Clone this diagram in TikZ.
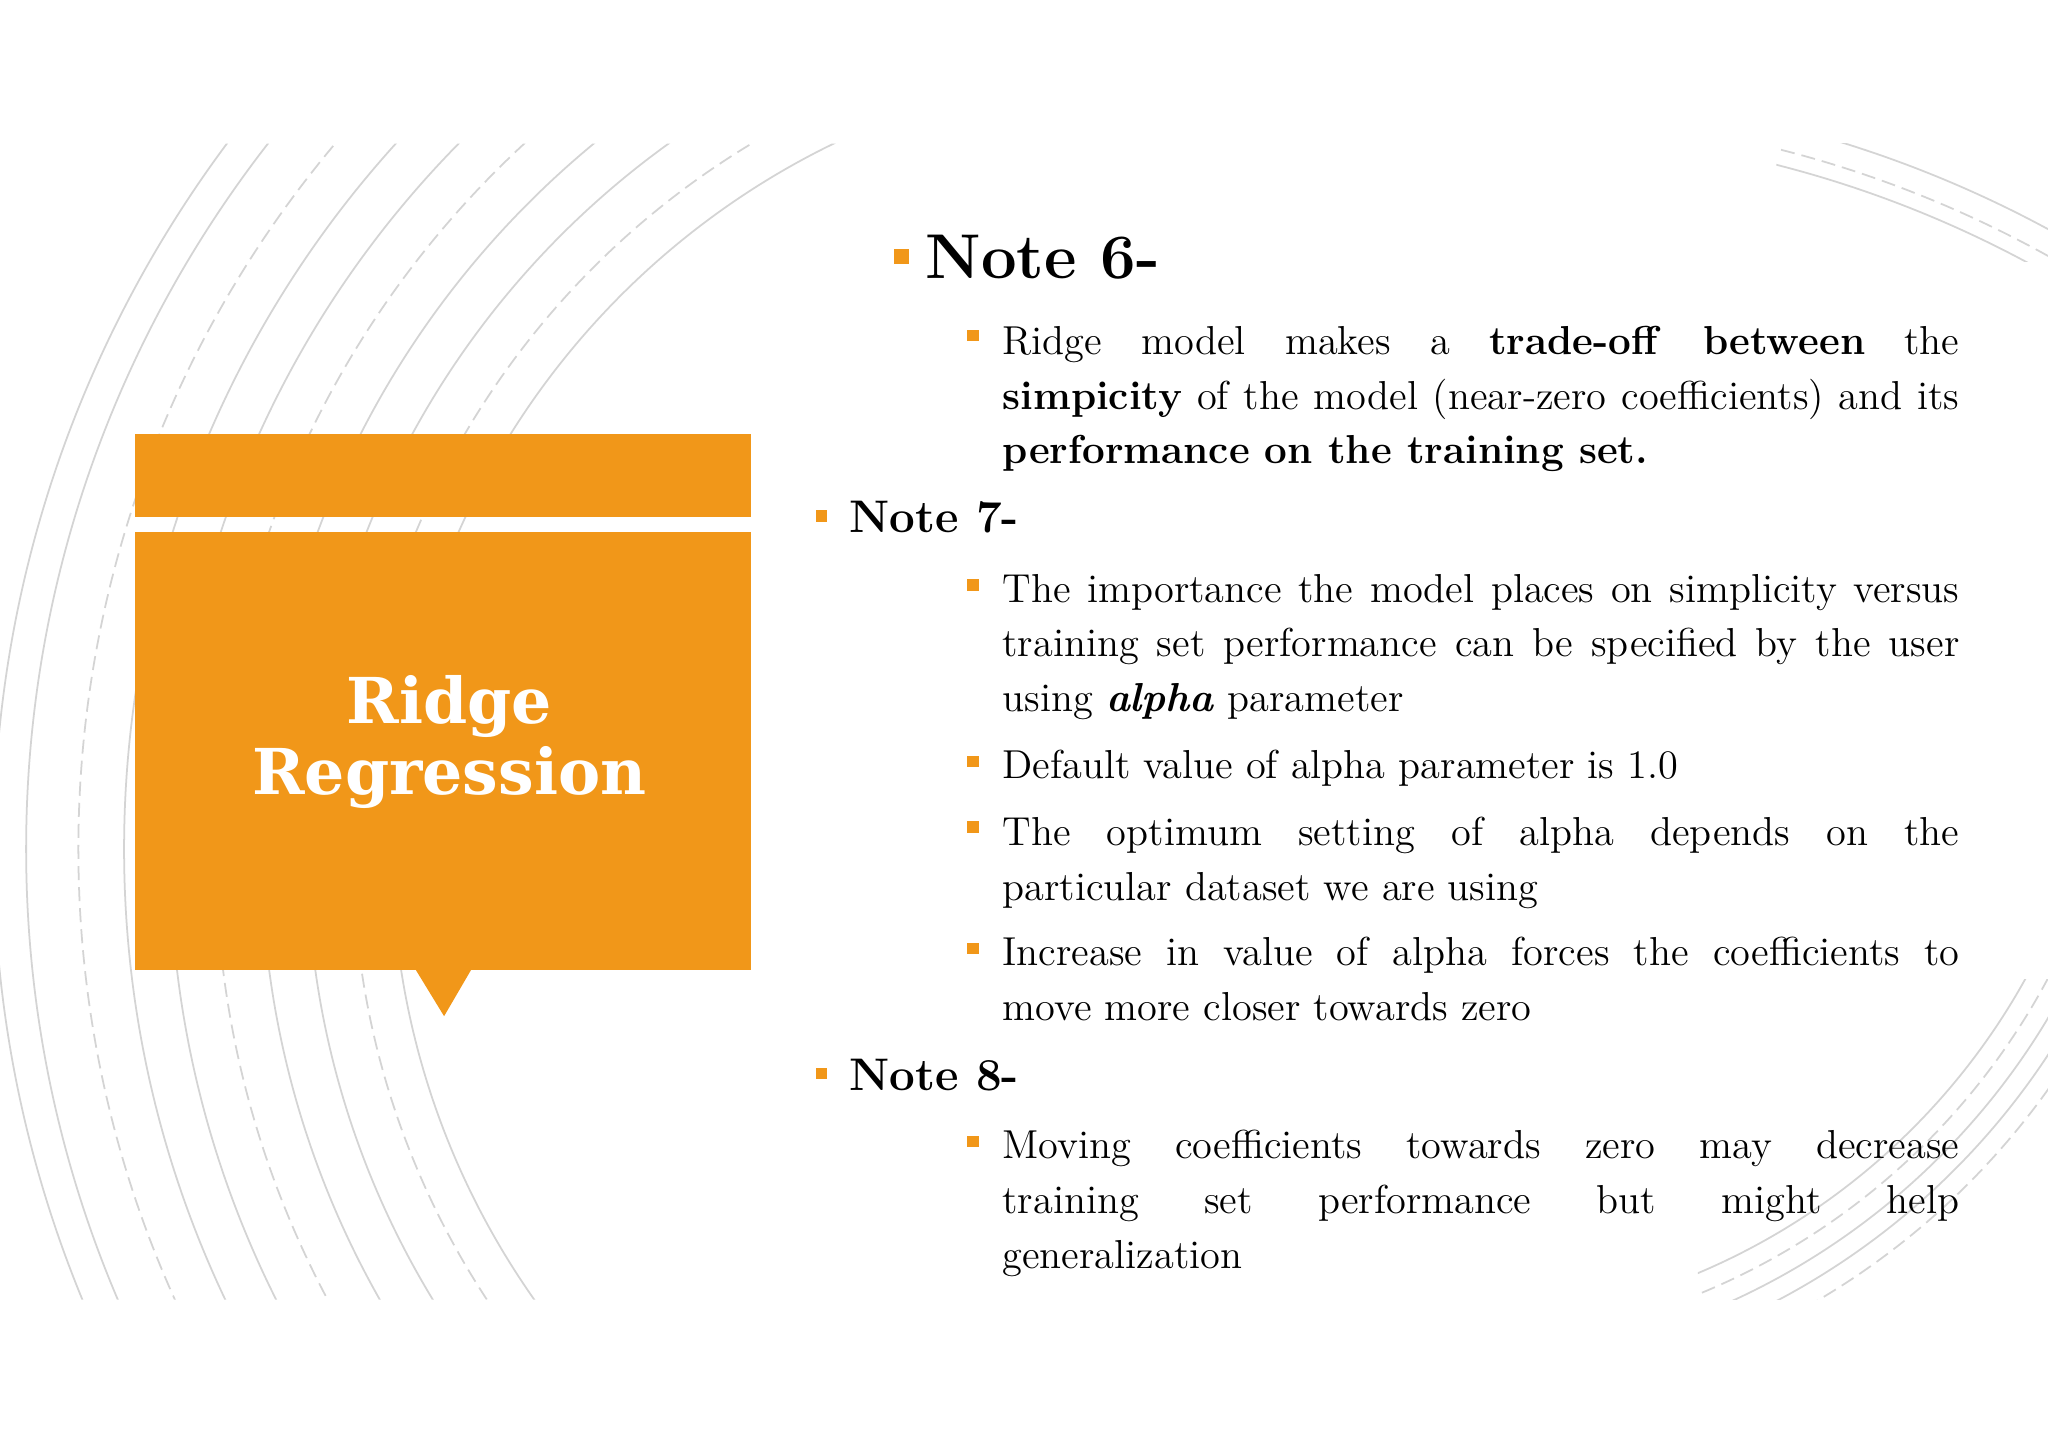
\documentclass[tikz,border=0pt]{standalone}
\usepackage{tikz}
\usetikzlibrary{positioning}
\usepackage{fontspec}
\newfontfamily\slabfont{DejaVu Serif}
\definecolor{slideorange}{HTML}{F19719}
\definecolor{arcgrey}{HTML}{D4D4D4}

\begin{document}
\begin{tikzpicture}[x=0.013061cm, y=-0.013061cm,
  arcline/.style = {draw=arcgrey, line width=0.5pt},
  arcdash/.style = {draw=arcgrey, line width=0.5pt, dash pattern=on 4pt off 2pt},
  subbullet/.style = {fill=slideorange, inner sep=0pt, minimum size=1.15mm},
  notebullet/.style = {fill=slideorange, inner sep=0pt, minimum size=1.5mm},
  bodytext/.style = {anchor=north west, inner sep=0pt, text width=9.57cm, align=justify,
    font=\fontsize{11.5}{15.6}\selectfont},
  notehead/.style = {anchor=base west, inner sep=0pt, font=\fontsize{13}{15}\selectfont\bfseries}]
\useasboundingbox (0,0) rectangle (1568,1109);
\fill[white] (0,0) rectangle (1568,1109);

% background arcs
\begin{scope}
\clip (0,110) -- (668,110) -- (440,995) -- (0,995) -- cycle;
\foreach \r/\s in {600/arcline, 630/arcdash, 665/arcline, 700/arcline, 735/arcdash, 770/arcline, 805/arcline, 840/arcdash, 880/arcline, 905/arcline}
  \draw[\s] (900,650) circle (\r);
\end{scope}
\begin{scope}
\clip (1360,110) rectangle (1568,200);
\foreach \r/\s in {850/arcline, 862/arcdash, 880/arcline}
  \draw[\s] (1150,950) circle (\r);
\end{scope}
\begin{scope}
\clip (1300,750) rectangle (1568,995);
\foreach \r/\s in {515/arcline, 530/arcdash, 545/arcline, 560/arcline, 575/arcdash}
  \draw[\s] (1100,500) circle (\r);
\end{scope}

% title box
\fill[slideorange] (103,332) rectangle (575,396);
\fill[slideorange] (103,407) rectangle (575,743);
\fill[slideorange] (318,742) -- (361,742) -- (340,778) -- cycle;
\node[text=white, align=center, font=\fontsize{18}{20}\slabfont\bfseries] (title) at (344,568) {Ridge\\Regression};

% note 6
\node[notebullet] (n6b) at (690,196) {};
\node[anchor=base west, inner sep=0pt, font=\fontsize{18}{20}\selectfont\bfseries] (n6) at (708,213) {Note 6-};
\node[subbullet] (b1) at (745,257) {};
\node[bodytext] (t1) at (767,249) {Ridge model makes a \textbf{trade-off between} the\linebreak
  \textbf{simpicity} of the model (near-zero coefficients) and its\linebreak
  \textbf{performance on the training set.}};

% note 7
\node[subbullet] (n7b) at (629,395) {};
\node[notehead] (n7) at (650,408) {Note 7-};
\node[subbullet] (b2) at (745,448) {};
\node[bodytext] (t2) at (767,439) {The importance the model places on simplicity versus\linebreak
  training set performance can be specified by the user\linebreak
  using \textbf{\textit{alpha}} parameter};
\node[subbullet] (b3) at (745,583) {};
\node[bodytext] (t3) at (767,574) {Default value of alpha parameter is 1.0};
\node[subbullet] (b4) at (745,633) {};
\node[bodytext] (t4) at (767,625) {The optimum setting of alpha depends on the\linebreak
  particular dataset we are using};
\node[subbullet] (b5) at (745,726) {};
\node[bodytext] (t5) at (767,717) {Increase in value of alpha forces the coefficients to\linebreak
  move more closer towards zero};

% note 8
\node[subbullet] (n8b) at (629,822) {};
\node[notehead] (n8) at (650,835) {Note 8-};
\node[subbullet] (b6) at (745,874) {};
\node[bodytext] (t6) at (767,865) {Moving coefficients towards zero may decrease\linebreak
  training set performance but might help\linebreak
  generalization};
\end{tikzpicture}
\end{document}
